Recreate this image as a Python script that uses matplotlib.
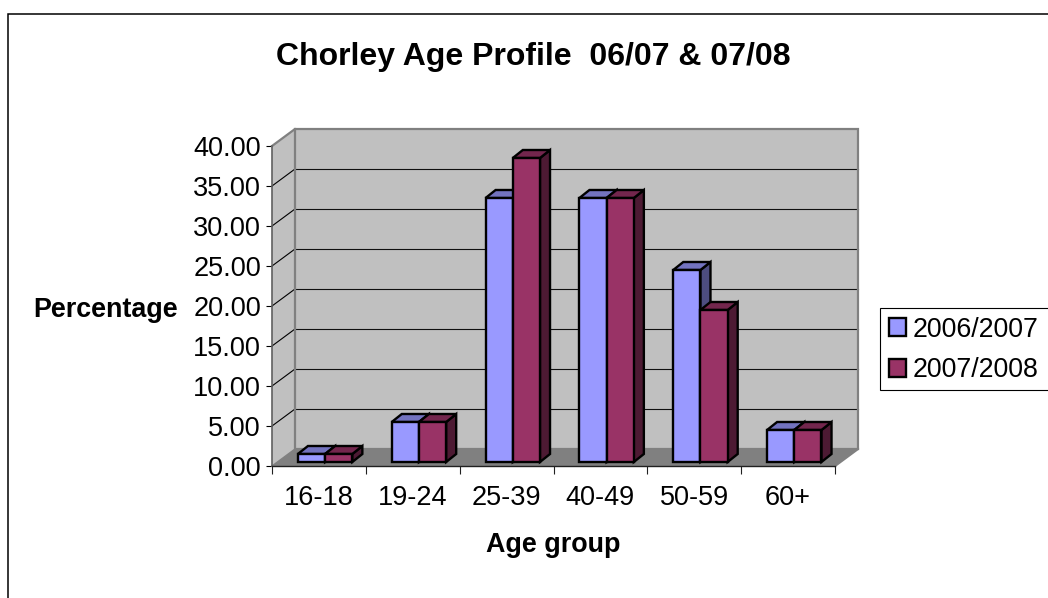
import matplotlib
matplotlib.use('Agg')
import matplotlib.pyplot as plt
from matplotlib.lines import Line2D
from matplotlib.patches import Patch, Polygon, Rectangle

plt.rcParams['font.family'] = ['Liberation Sans', 'DejaVu Sans']

age_groups = ['16-18', '19-24', '25-39', '40-49', '50-59', '60+']
values_0607 = [1, 5, 33, 33, 24, 4]
values_0708 = [1, 5, 38, 33, 19, 4]
series_names = ['2006/2007', '2007/2008']
y_ticks = [0, 5, 10, 15, 20, 25, 30, 35, 40]

W, H = 1048, 598
BLUE = ('#9999FF', '#7373BF', '#4D4D80')
MAROON = ('#993366', '#73264D', '#4D1A33')

# oblique offsets in data units (one category wide, percent high)
WALL_DX, WALL_DY = 0.245, 2.125
BAR_DX, BAR_DY = 0.107, 1.0
SHIFT_X, SHIFT_Y = 0.066, 0.5
BAR_W = 0.29
EDGE = 1.7

fig = plt.figure(figsize=(W / 100, H / 100), dpi=100)
ax = fig.add_axes([272 / W, 1 - 466 / H, (835 - 272) / W, 320 / H])
ax.set_xlim(0, 6)
ax.set_ylim(0, 40)
ax.patch.set_visible(False)


def face(pts, color, z, lw=0, ec='none'):
    ax.add_patch(Polygon(pts, closed=True, fc=color, ec=ec, lw=lw, zorder=z,
                         clip_on=False, joinstyle='miter'))


# walls and floor
top, n = y_ticks[-1], len(age_groups)
face([(0, 0), (WALL_DX, WALL_DY), (WALL_DX, top + WALL_DY), (0, top)], '#C0C0C0', 1)
face([(WALL_DX, WALL_DY), (n + WALL_DX, WALL_DY), (n + WALL_DX, top + WALL_DY),
      (WALL_DX, top + WALL_DY)], '#C0C0C0', 1)
face([(0, 0), (n, 0), (n + WALL_DX, WALL_DY), (WALL_DX, WALL_DY)], '#808080', 1)
for t in y_ticks[1:-1]:
    ax.plot([0, WALL_DX], [t, t + WALL_DY], color='black', lw=0.8, zorder=2, clip_on=False)
    ax.plot([WALL_DX, n + WALL_DX], [t + WALL_DY, t + WALL_DY], color='#101010', lw=0.8, zorder=2,
            clip_on=False)
ax.plot([0, WALL_DX, n + WALL_DX, n + WALL_DX, n], [top, top + WALL_DY, top + WALL_DY, WALL_DY, 0],
        color='#808080', lw=1.6, zorder=2, clip_on=False, solid_joinstyle='miter')
ax.plot([WALL_DX, WALL_DX, n + WALL_DX], [top + WALL_DY, WALL_DY, WALL_DY], color='#808080',
        lw=1.6, zorder=2, clip_on=False, solid_joinstyle='miter')
ax.plot([0, WALL_DX], [0, WALL_DY], color='#808080', lw=1, zorder=2, clip_on=False)

# bars, left to right so later ones overlap earlier sides
z = 3
for i in range(n):
    left = i + 0.5 - BAR_W + SHIFT_X
    for j, (vals, cols) in enumerate(((values_0607, BLUE), (values_0708, MAROON))):
        x0 = left + j * BAR_W
        x1 = x0 + BAR_W
        y1 = vals[i] + SHIFT_Y
        face([(x1, SHIFT_Y), (x1 + BAR_DX, SHIFT_Y + BAR_DY), (x1 + BAR_DX, y1 + BAR_DY), (x1, y1)],
             cols[2], z, EDGE, 'black')
        face([(x0, y1), (x1, y1), (x1 + BAR_DX, y1 + BAR_DY), (x0 + BAR_DX, y1 + BAR_DY)],
             cols[1], z, EDGE, 'black')
        ax.bar(x0, vals[i], BAR_W, bottom=SHIFT_Y, align='edge', color=cols[0], edgecolor='black',
               linewidth=EDGE, zorder=z + 0.5)
        z += 1

for side in ('top', 'right'):
    ax.spines[side].set_visible(False)
ax.spines['left'].set_color('#606060')
ax.spines['left'].set_linewidth(1.2)
ax.spines['bottom'].set_color('#202020')
ax.spines['bottom'].set_linewidth(1.0)
ax.set_yticks(y_ticks)
ax.set_yticklabels([f'{t:.2f}' for t in y_ticks], fontsize=19.5)
ax.set_xticks(range(n + 1))
ax.set_xticklabels([])
ax.set_xticks([i + 0.5 for i in range(n)], minor=True)
ax.set_xticklabels(age_groups, minor=True, fontsize=19.5)
ax.tick_params(axis='y', length=4, width=0.8, pad=4)
ax.tick_params(axis='x', which='major', length=5.5, width=0.8, color='#202020')
ax.tick_params(axis='x', which='minor', length=0, pad=14)

fig.text(533 / W, 1 - 57 / H, 'Chorley Age Profile  06/07 & 07/08', fontsize=23, fontweight='bold',
         ha='center', va='center')
fig.text(105.5 / W, 1 - 310 / H, 'Percentage', fontsize=19.4, fontweight='bold', ha='center', va='center')
fig.text(553 / W, 1 - 545 / H, 'Age group', fontsize=19.4, fontweight='bold', ha='center', va='center')

# legend box runs off the right edge of the picture
fig.add_artist(Rectangle((879.5 / W, 1 - 389.5 / H), 200 / W, 82 / H, fc='white', ec='black', lw=0.8,
                         transform=fig.transFigure))
handles = [Patch(fc=BLUE[0], ec='black', lw=EDGE), Patch(fc=MAROON[0], ec='black', lw=EDGE)]
leg = fig.legend(handles, series_names, loc='upper left', bbox_to_anchor=(879 / W, 1 - 307 / H),
                 fontsize=19.3, frameon=False,
                 handlelength=0.66, handleheight=0.66, handletextpad=0.25, labelspacing=0.55,
                 borderaxespad=0, borderpad=0.36)

# chart frame, only the left and top edges fall inside the picture
fig.add_artist(Line2D([7.5 / W, 7.5 / W, 1], [0, 1 - 13.5 / H, 1 - 13.5 / H], color='black', lw=1.1,
                      solid_joinstyle='miter'))

fig.savefig('out.png', dpi=100)
